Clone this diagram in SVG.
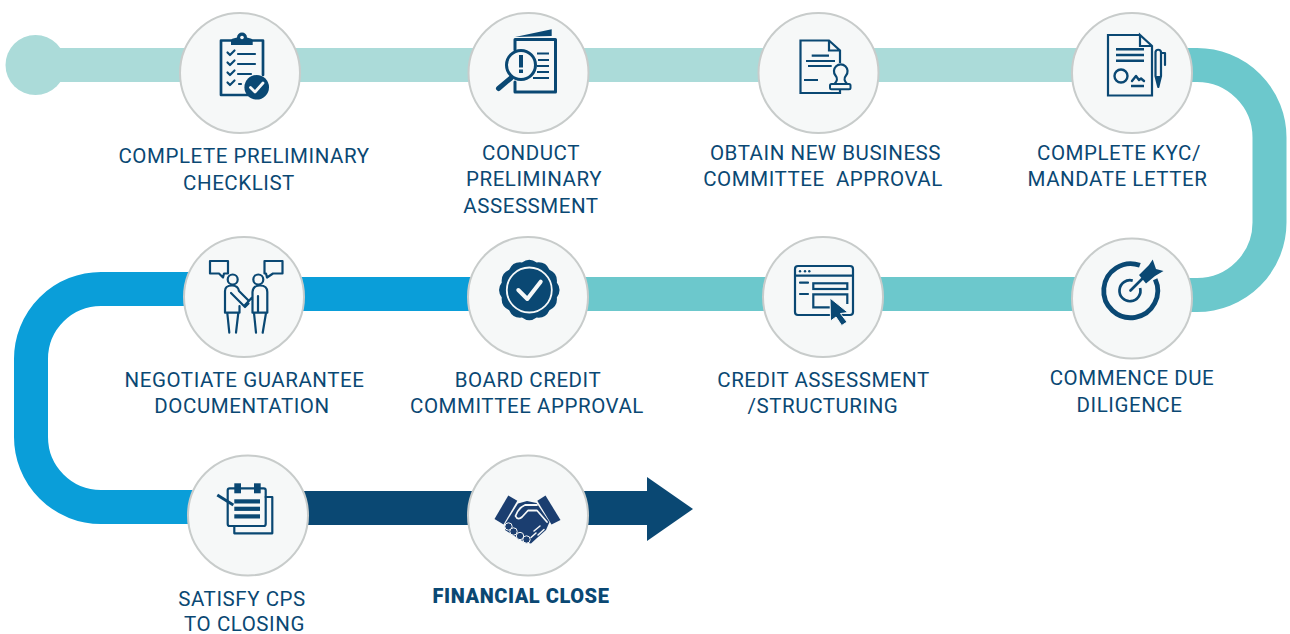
<svg xmlns="http://www.w3.org/2000/svg" width="1290" height="634" viewBox="0 0 1290 634">
<defs>
<style>
.b{fill:#f6f8f8;stroke:#c8cccb;stroke-width:2}
.c{fill:none;stroke-width:34}
.i{fill:none;stroke:#0a4873;stroke-width:2.200;stroke-linecap:round;stroke-linejoin:round}
.f{fill:#0a4873}
.w{fill:none;stroke:#f6f8f8;stroke-linecap:round;stroke-linejoin:round}
text{font-family:Roboto,"Liberation Sans",sans-serif;font-size:20.5px;letter-spacing:.55px;fill:#0a4873;text-anchor:middle;white-space:pre}
</style>
</defs>
<rect width="1290" height="634" fill="#fff"/>
<g id="connectors">
<circle cx="35.500" cy="65" r="30" fill="#abdbd9"/>
<path class="c" stroke="#abdbd9" d="M35 65H1132"/>
<path class="c" stroke="#6cc8cc" d="M1132 65H1197A72.500 72.500 0 0 1 1269.500 137.500V222.500A72.500 72.500 0 0 1 1197 295H1132"/>
<path class="c" stroke="#6cc8cc" d="M1132 294H528"/>
<path class="c" stroke="#0a9ed9" d="M528 294H244"/>
<path class="c" stroke="#0a9ed9" d="M244 289H101A70 70 0 0 0 31 359V437A70 70 0 0 0 101 507H248"/>
<path class="f" d="M248 491H647V477L693 509 647 541V525H248Z"/>
</g>
<g id="step-1">
<circle class="b" cx="240" cy="73" r="60"/>
<path class="i" style="stroke-width:2.700" d="M231 40.500H221V95H250M252 40.500H263V75"/>
<path class="f" d="M231 45V40.500C231 38.500 235 38 237 37.500A5 5 0 0 1 247 37.500C249 38 252.700 38.500 252.700 40.500V45Z"/>
<circle cx="242" cy="37.500" r="1.800" fill="#f6f8f8"/>
<path class="i" d="M227.500 52.500L230 55 234.500 50.500M227.500 62.500L230 65 234.500 60.500M227.500 72.500L230 75 234.500 70.500M227.500 82.500L230 85 234.500 80.500"/>
<path class="i" d="M238 54H255M238 64H255M238 74H251M239 84H241"/>
<circle class="f" cx="256.700" cy="87.300" r="12.300"/>
<path class="w" style="stroke-width:2.800" d="M250.500 87.500L255 92 263 83"/>
</g>
<g id="step-2">
<circle class="b" cx="528.500" cy="73" r="60"/>
<path class="i" style="stroke-width:3" d="M515 50V39.500H555.500V92H515V82"/>
<path class="f" d="M515 37L551.700 29.300V36Z"/>
<circle cx="521" cy="65" r="14.500" fill="#f6f8f8" stroke="#0a4873" stroke-width="3"/>
<path class="i" style="stroke-width:5" d="M511 78L498.500 88.500"/>
<rect class="f" x="519" y="55" width="4" height="12.500"/>
<rect class="f" x="519" y="69.500" width="4" height="3.500"/>
<path class="i" style="stroke-linecap:butt" d="M537 53.500H549M538 60H549M537 66H549M537 72H549M533 78H549"/>
</g>
<g id="step-3">
<circle class="b" cx="818.500" cy="73" r="60"/>
<path class="i" style="stroke-linejoin:miter;stroke-linecap:butt" d="M840 63V50.500L829 40.500H800.500V93H840V89M829 40.500V50.500H840"/>
<path class="i" style="stroke-linecap:butt" d="M811.700 55.700H829M806 61H835M808 66H831.700M804 80H818"/>
<path class="i" style="fill:#f6f8f8" d="M834.500 84C838 80 837.500 78 835.500 75.500A6.800 6.800 0 1 1 846 75.500C844 78 843.500 80 847 84Z"/>
<rect x="830" y="84" width="20.500" height="5.300" rx="1.500" fill="#f6f8f8" stroke="#0a4873" stroke-width="2"/>
</g>
<g id="step-4">
<circle class="b" cx="1132" cy="73" r="60"/>
<path class="i" style="stroke-linejoin:miter" d="M1140 35H1108V95.500H1152V46L1140 35V46H1152"/>
<path class="i" style="stroke-linecap:butt;stroke-width:2.400" d="M1116 49.300H1144M1116 55H1144M1116 60.700H1144M1131 86H1144"/>
<circle class="i" style="stroke-width:2.400" cx="1121" cy="76" r="6.500"/>
<path class="i" style="stroke-width:2.400" d="M1132 81L1136 76 1139 80 1141 78.500 1144 81"/>
<path class="i" d="M1155.500 52A2.800 2.800 0 0 1 1161 52V76L1158.300 87 1155.500 76ZM1161 53H1165V65"/>
<path class="f" d="M1155.500 76H1161L1158.300 87Z"/>
</g>
<g id="step-5">
<circle class="b" cx="244" cy="297" r="60"/>
<path class="i" d="M210 261H228V273.500H224L223 277.500 219 273.500H210Z"/>
<path class="i" d="M264.500 261H282.500V273.500H273L267 277.500 266 273.500H264.500Z"/>
<circle class="i" cx="232.700" cy="279.500" r="5"/>
<circle class="i" cx="258.300" cy="279.500" r="5"/>
<path class="i" d="M225 312.700V291Q225 285.500 232 285.500Q238 285.500 239 291L248.500 300.500M231 293L245 307 248.500 303.500M225 312.700H239.500V306M227.300 313L229.300 332.700M238.300 313L236 332.700"/>
<path class="i" d="M252.500 312.700V292Q253 285.500 260 285.500Q267.300 285.500 267.300 292V312.700ZM258 296V312.700M252.500 297L245 305M254 313L256 332.700M266 313L262.700 332.700"/>
</g>
<g id="step-6">
<circle class="b" cx="528" cy="297" r="60"/>
<g transform="translate(529.300 290)">
<path class="f" d="M27.530 -7.380Q33 0 27.530 7.380Q28.580 16.500 20.150 20.150Q16.500 28.580 7.380 27.530Q0 33 -7.380 27.530Q-16.500 28.580 -20.150 20.150Q-28.580 16.500 -27.530 7.380Q-33 0 -27.530 -7.380Q-28.580 -16.500 -20.150 -20.150Q-16.500 -28.580 -7.380 -27.530Q0 -33 7.380 -27.530Q16.500 -28.580 20.150 -20.150Q28.580 -16.500 27.530 -7.380Z"/>
<circle r="22.500" fill="none" stroke="#f6f8f8" stroke-width="1.800"/>
<path class="w" style="stroke-width:4" d="M-11 0L-2 9 11.400 -8.300"/>
</g>
</g>
<g id="step-7">
<circle class="b" cx="823" cy="297" r="60"/>
<rect class="i" x="795" y="266" width="58" height="49" rx="3"/>
<path class="i" d="M795 275.700H853M800 282.700H808M800 294H808"/>
<circle class="f" cx="800" cy="271.300" r="1.200"/><circle class="f" cx="805" cy="271.300" r="1.200"/><circle class="f" cx="809.300" cy="271.300" r="1.200"/>
<rect class="i" x="813.300" y="283.300" width="34" height="5.700" style="stroke-linecap:butt;stroke-linejoin:miter"/>
<path class="i" style="stroke-linecap:butt;stroke-linejoin:miter" d="M847.300 304V294.300H813.300V307.300H830"/>
<path class="f" stroke="#f6f8f8" stroke-width="1" d="M830 298L848 312.500 840.500 313.500 847 322 841.700 325.500 836 317 830.500 321Z"/>
</g>
<g id="step-8">
<circle class="b" cx="1132" cy="298.500" r="60"/>
<path class="i" style="stroke-width:4.800;stroke-linecap:butt" d="M1139.900 265.300A27 27 0 1 0 1155.200 279.300"/>
<path class="i" style="stroke-width:2.700;stroke-linecap:butt" d="M1132.700 280.600A10.500 10.500 0 1 0 1140.100 288"/>
<path class="i" style="stroke-width:2.700" d="M1130.500 290.500L1145 276"/>
<path class="f" d="M1139 275L1149 265 1152.700 259.500 1156 269 1163.500 271 1155 276 1146 283.500Z"/>
</g>
<g id="step-9">
<circle class="b" cx="248" cy="515.500" r="60"/>
<rect class="i" x="227.700" y="488.300" width="38" height="37.700" rx="2"/>
<path class="i" d="M265.700 497H272.300V533.300H234.300V526"/>
<rect class="f" x="234.300" y="483.300" width="6.700" height="10"/>
<rect class="f" x="254" y="483.300" width="6.700" height="10"/>
<rect class="f" x="234.300" y="499.300" width="25.700" height="4.200"/>
<rect class="f" x="234.300" y="506.700" width="25.700" height="4.200"/>
<rect class="f" x="234.300" y="514.300" width="25.700" height="4.200"/>
<path class="i" style="stroke-width:3;stroke-linecap:butt" d="M217.300 495L233.300 505"/>
</g>
<g id="step-10">
<circle class="b" cx="528" cy="515.500" r="60"/>
<g fill="#1b3e70">
<path d="M494.500 519L508.300 495.500 517.300 500.700 503.500 524.500Z"/>
<path d="M545.500 495.500L560.500 520 551.500 524.500 537.300 500.700Z"/>
<path d="M518 503.500L527 501 536.500 503 549.500 522 546 530 537 538 531 543.500 524 542 505 530 505 524Z"/>
<g stroke="#f6f8f8" stroke-width="1"><circle cx="508.500" cy="526.500" r="3.700"/><circle cx="513.500" cy="531.500" r="3.700"/><circle cx="520" cy="536" r="3.700"/><circle cx="526.500" cy="539.500" r="3.700"/></g>
</g>
<path class="w" style="stroke-width:1.800" d="M537 505H525C520 507 517 512 515.500 516 517 519.500 520 519 522 517L528 510.500H537L547 522"/>
<path class="w" style="stroke-width:1.500" d="M534 531L540 526M538 535L544 529.500M531 537.500L536 533"/>
</g>
<g id="labels">
<text x="244" y="163">COMPLETE PRELIMINARY</text><text x="239" y="189.500">CHECKLIST</text>
<text x="531" y="160">CONDUCT</text><text x="534" y="186">PRELIMINARY</text><text x="531" y="212.500">ASSESSMENT</text>
<text x="825.500" y="160">OBTAIN NEW BUSINESS</text><text x="823" y="186">COMMITTEE  APPROVAL</text>
<text x="1119" y="160">COMPLETE KYC/</text><text x="1117.500" y="186">MANDATE LETTER</text>
<text x="244.500" y="386.500">NEGOTIATE GUARANTEE</text><text x="242" y="413">DOCUMENTATION</text>
<text x="528" y="386.500">BOARD CREDIT</text><text x="527" y="413">COMMITTEE APPROVAL</text>
<text x="823.500" y="386.500">CREDIT ASSESSMENT</text><text x="823" y="413">/STRUCTURING</text>
<text x="1132" y="385">COMMENCE DUE</text><text x="1129.500" y="411.500">DILIGENCE</text>
<text x="242" y="606">SATISFY CPS</text><text x="244.500" y="631">TO CLOSING</text>
<text x="521" y="603" style="font-weight:900;font-size:20px">FINANCIAL CLOSE</text>
</g>
</svg>
